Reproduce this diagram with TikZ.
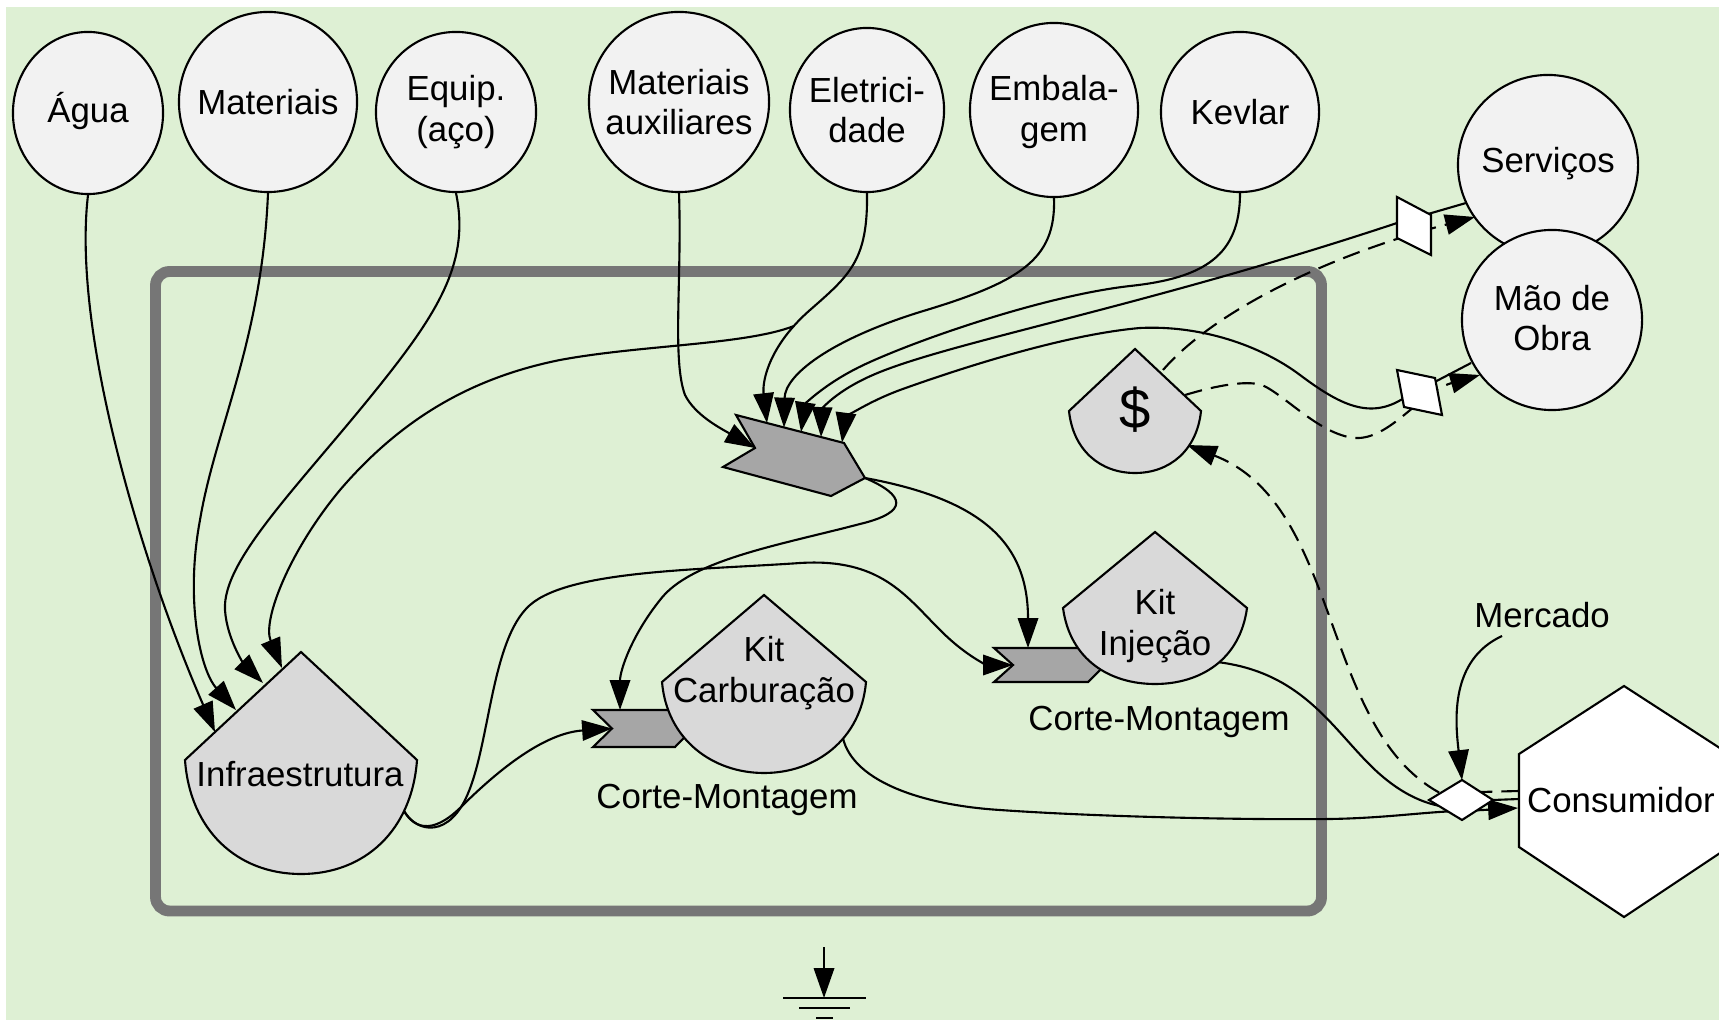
\documentclass[tikz,border=0pt]{standalone}
\usepackage{fontspec}
\setmainfont{Liberation Sans}
\usetikzlibrary{arrows.meta,shapes.geometric}
\definecolor{bggreen}{RGB}{222,240,212}
\definecolor{srcfill}{RGB}{242,242,242}
\definecolor{kitfill}{RGB}{217,217,217}
\definecolor{chevfill}{RGB}{166,166,166}
\definecolor{framegray}{RGB}{118,118,118}
\begin{document}
\begin{tikzpicture}[x=0.01cm,y=-0.01cm,
  src/.style={ellipse, draw=black, line width=0.6pt, fill=srcfill, inner sep=0pt},
  lbl/.style={font=\fontsize{9.9}{11.6}\selectfont, align=center, inner sep=0pt},
  flow/.style={draw=black, line width=0.6pt},
  arr/.style={flow, -{Triangle[length=8.5pt,width=5.8pt]}},
  money/.style={flow, dash pattern=on 5pt off 2.6pt},
  marr/.style={money, -{Triangle[length=8.5pt,width=5.8pt]}},
  kit/.style={draw=black, line width=0.6pt, fill=kitfill},
  chev/.style={draw=black, line width=0.6pt, fill=chevfill},
  pgram/.style={draw=black, line width=0.6pt, fill=white},
]
\useasboundingbox (0,0) rectangle (1719,1025);
\clip (0,0) rectangle (1719,1025);
\fill[white] (0,0) rectangle (1719,1025);
\fill[bggreen] (6,7) rectangle (1719,1020);
\draw[framegray, line width=3.1pt, rounded corners=4pt] (155.5,271.5) rectangle (1321.5,911);

% ports
\coordinate (i1) at (215,732);
\coordinate (i2) at (236,710);
\coordinate (i3) at (263,683);
\coordinate (i4) at (282,668);
\coordinate (c1) at (767,423);
\coordinate (c2) at (784,427.5);
\coordinate (c3) at (801,432);
\coordinate (c4) at (821,437);
\coordinate (c5) at (842,442.5);
\coordinate (cnotch) at (755,448);
\coordinate (ctip) at (865,478);
\coordinate (split) at (794,326);
\coordinate (infraout) at (401,805);
\coordinate (carbnotch) at (612,728.5);
\coordinate (carbtop) at (620,710);
\coordinate (injnotch) at (1013,665);
\coordinate (injtop) at (1028,648);
\coordinate (carbout) at (842,733);
\coordinate (injout) at (1217,662);
\coordinate (servport) at (1466,203);
\coordinate (maoport) at (1471,363);
\coordinate (dolA) at (1163,370);
\coordinate (dolB) at (1185,395);
\coordinate (dolin) at (1187,445);
\coordinate (servin) at (1475,217);
\coordinate (maoin) at (1480,375);
\coordinate (dtop) at (1462,780);
\coordinate (hexmoney) at (1519,791);
\coordinate (hexin) at (1518,808);
\coordinate (hexline) at (1519,799);
\coordinate (gndtop) at (824,947);
\coordinate (gnd) at (824,998);

% sources
\node[src, minimum width=1.5cm, minimum height=1.62cm] (agua) at (88,113) {};
\node[lbl] at (88,111) {Água};
\node[src, minimum width=1.78cm, minimum height=1.8cm] (mat) at (268,102) {};
\node[lbl] at (mat) {Materiais};
\node[src, minimum width=1.6cm, minimum height=1.6cm] (equip) at (456,112) {};
\node[lbl] at (equip) {Equip.\\(aço)};
\node[src, minimum width=1.8cm, minimum height=1.8cm] (mataux) at (679,102) {};
\node[lbl] at (mataux) {Materiais\\auxiliares};
\node[src, minimum width=1.54cm, minimum height=1.64cm] (elet) at (867,110) {};
\node[lbl] at (elet) {Eletrici-\\dade};
\node[src, minimum width=1.68cm, minimum height=1.74cm] (emb) at (1054,110) {};
\node[lbl] at (1054,112) {Embala-\\gem};
\node[src, minimum width=1.58cm, minimum height=1.6cm] (kev) at (1240,112) {};
\node[lbl] at (kev) {Kevlar};
\node[src, minimum width=1.8cm, minimum height=1.8cm] (serv) at (1548,165) {};
\node[lbl] at (1548,164) {Serviços};
\node[src, minimum width=1.8cm, minimum height=1.8cm] (mao) at (1552,320) {};
\node[lbl] at (1552,318) {Mão de\\Obra};

% flows into Infraestrutura
\draw[arr] (agua.south) .. controls (72,330) and (140,560) .. (i1);
\draw[arr] (mat.south) .. controls (262,340) and (215,430) .. (200,520) .. controls (185,600) and (200,670) .. (i2);
\draw[arr] (equip.south) .. controls (470,260) and (440,310) .. (380,385) .. controls (300,485) and (222,560) .. (225,610) .. controls (227,640) and (245,665) .. (i3);
\draw[arr] (split) .. controls (745,345) and (640,345) .. (560,360) .. controls (470,378) and (400,420) .. (340,490) .. controls (290,550) and (262,620) .. (i4);

% flows into the central process
\draw[arr] (elet.south) .. controls (868,260) and (850,275) .. (810,310) .. controls (770,345) and (762,380) .. (c1);
\draw[arr] (emb.south) .. controls (1056,260) and (1020,282) .. (920,312) .. controls (830,340) and (785,375) .. (c2);
\draw[arr] (kev.south) .. controls (1240,255) and (1205,278) .. (1130,286) .. controls (1050,295) and (930,335) .. (870,362) .. controls (825,382) and (805,405) .. (c3);
\draw[arr] (servport) -- (1397,223) .. controls (1150,305) and (960,340) .. (880,372) .. controls (835,390) and (822,410) .. (c4);
\draw[arr] (maoport) -- (1404,398) .. controls (1370,420) and (1340,405) .. (1300,375) .. controls (1260,345) and (1200,325) .. (1140,328) .. controls (1060,335) and (950,372) .. (900,390) .. controls (860,405) and (845,420) .. (c5);
\draw[arr] (mataux.south) .. controls (682,280) and (672,360) .. (685,395) .. controls (695,415) and (720,428) .. (cnotch);

% outputs of the central process
\draw[arr] (ctip) .. controls (985,500) and (1028,545) .. (injtop);
\draw[arr] (ctip) .. controls (905,495) and (910,512) .. (860,524) .. controls (780,545) and (690,560) .. (660,600) .. controls (632,635) and (620,670) .. (carbtop);

% Infraestrutura outputs
\draw[arr] (infraout) .. controls (412,830) and (432,835) .. (460,808) .. controls (500,768) and (545,733) .. (carbnotch);
\draw[arr] (infraout) .. controls (412,832) and (445,840) .. (465,800) .. controls (490,750) and (490,640) .. (530,605) .. controls (570,570) and (700,570) .. (800,563) .. controls (880,558) and (905,595) .. (940,630) .. controls (970,660) and (990,665) .. (injnotch);

% products to consumer
\draw[arr] (carbout) .. controls (848,780) and (920,805) .. (1000,810) .. controls (1100,817) and (1250,820) .. (1330,819) .. controls (1390,818) and (1430,811) .. (1465,811) -- (hexin);
\draw[flow] (injout) .. controls (1300,672) and (1330,725) .. (1370,765) .. controls (1400,795) and (1430,808) .. (1460,808) -- (1493,800) -- (hexline);

% money flows
\draw[marr] (hexmoney) -- (1440,793) .. controls (1320,728) and (1342,505) .. (dolin);
\draw[marr] (dolA) .. controls (1215,310) and (1330,255) .. (servin);
\draw[marr] (dolB) .. controls (1215,386) and (1245,380) .. (1262,385) .. controls (1285,395) and (1320,435) .. (1355,438) .. controls (1390,440) and (1420,392) .. (maoin);

% Mercado
\node[lbl] (merc) at (1542,615) {Mercado};
\draw[arr] (1502,636) .. controls (1450,660) and (1455,720) .. (dtop);

% process shapes
\draw[chev] (736,415) -- (844,443) -- (865,478) -- (831,496) -- (723,467) -- (755,448) -- cycle;
\draw[chev] (593,710) -- (675,710) -- (693,728.5) -- (675,747) -- (593,747) -- (612,728.5) -- cycle;
\draw[chev] (994,648) -- (1088,648) -- (1105,665) -- (1088,682) -- (994,682) -- (1013,665) -- cycle;

\draw[kit] (301,652) -- (417,760) .. controls (412,830) and (365,874) .. (301,874) .. controls (237,874) and (190,830) .. (185,760) -- cycle;
\node[lbl] (infra) at (300,774) {Infraestrutura};

\draw[kit] (764,595) -- (866,682) .. controls (861,740) and (815,773) .. (764,773) .. controls (713,773) and (667,740) .. (662,682) -- cycle;
\node[lbl] (carb) at (764,673) {Kit\\Carburação};
\node[lbl] (cm1) at (727,800) {Corte-Montagem};

\draw[kit] (1155,532) -- (1247,608) .. controls (1240,660) and (1200,684) .. (1155,684) .. controls (1110,684) and (1070,660) .. (1063,608) -- cycle;
\node[lbl] (inj) at (1155,626) {Kit\\Injeção};
\node[lbl] (cm2) at (1159,722) {Corte-Montagem};

\draw[kit] (1135,349) -- (1201,411) .. controls (1197,450) and (1170,473) .. (1135,473) .. controls (1100,473) and (1073,450) .. (1069,411) -- cycle;
\node[font=\fontsize{16}{18}\selectfont, inner sep=0pt] (dollar) at (1135,410) {\$};

% exchange symbols
\draw[pgram] (1397,197) -- (1431,215) -- (1431,255) -- (1397,238) -- cycle;
\draw[pgram] (1397,370) -- (1435,378) -- (1442,415) -- (1404,407) -- cycle;
\draw[pgram] (1429,800) -- (1462,780) -- (1493,800) -- (1462,820) -- cycle;

% consumer
\draw[draw=black, line width=0.6pt, fill=white] (1624,686) -- (1729,754) -- (1729,847) -- (1624,917) -- (1519,847) -- (1519,754) -- cycle;
\node[lbl] (cons) at (1621,800) {Consumidor};

% heat sink
\draw[arr] (gndtop) -- (gnd);
\draw[line width=0.6pt] (783,998) -- (866,998);
\draw[line width=0.6pt] (799,1008) -- (850,1008);
\draw[line width=0.6pt] (816,1018) -- (833,1018);
\end{tikzpicture}
\end{document}
